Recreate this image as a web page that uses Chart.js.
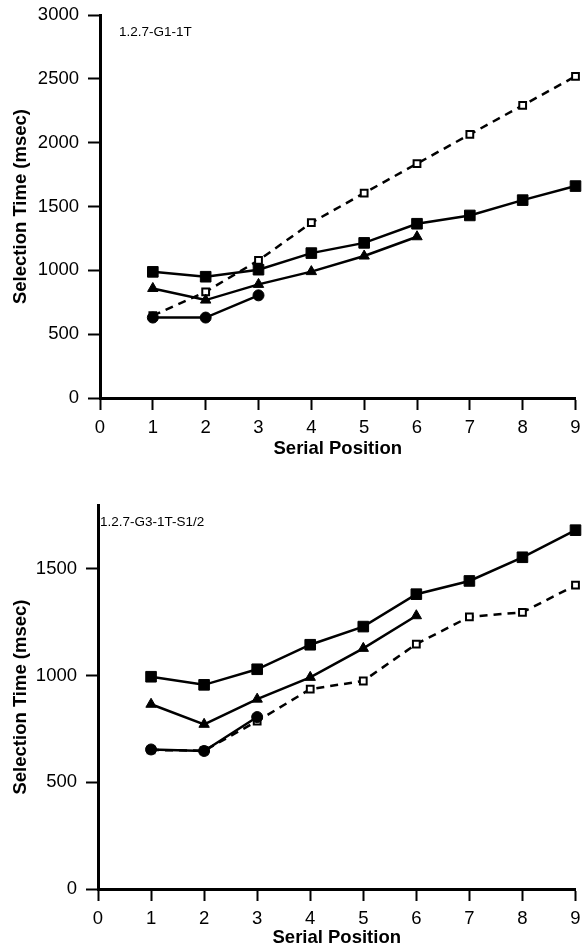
<!DOCTYPE html>
<html>
<head>
<meta charset="utf-8">
<script src="https://cdn.jsdelivr.net/npm/chart.js@4/dist/chart.umd.min.js"></script>
<style>
  html, body { margin: 0; padding: 0; background: #fff; }
  #wrap { position: relative; width: 584px; height: 949px; overflow: hidden; }
  canvas { position: absolute; left: 0; }
  #c1 { top: 0; }
  #c2 { top: 475px; }
</style>
</head>
<body>
<div id="wrap">
  <canvas id="c1" width="584" height="460"></canvas>
  <canvas id="c2" width="584" height="474"></canvas>
</div>
<script>
// ---- data ----
const positions = [1, 2, 3, 4, 5, 6, 7, 8, 9];
const xTicks = [0, 1, 2, 3, 4, 5, 6, 7, 8, 9];

const topLabel = '1.2.7-G1-1T';
const topYTicks = [0, 500, 1000, 1500, 2000, 2500, 3000];
const topSquares = [988, 950, 1005, 1135, 1215, 1365, 1430, 1550, 1660];
const topOpen = [645, 832, 1078, 1373, 1605, 1836, 2065, 2292, 2520];
const topTriangles = [858, 767, 890, 990, 1112, 1263];
const topCircles = [630, 630, 804];

const botLabel = '1.2.7-G3-1T-S1/2';
const botYTicks = [0, 500, 1000, 1500];
const botSquares = [995, 957, 1030, 1145, 1230, 1382, 1444, 1555, 1682];
const botOpen = [652, 648, 787, 937, 975, 1148, 1276, 1297, 1424];
const botTriangles = [866, 772, 890, 992, 1128, 1281];
const botCircles = [654, 647, 806];

const xTitle = 'Serial Position';
const yTitle = 'Selection Time (msec)';

// ---- helpers ----
function pts(vals) { return vals.map((v, i) => ({ x: positions[i], y: v })); }

function datasets(sq, open, tri, circ) {
  const base = { borderColor: '#000', borderWidth: 2.5, clip: false, tension: 0, fill: false };
  return [
    Object.assign({}, base, { data: pts(sq), pointStyle: 'rect', pointRadius: 7.5, backgroundColor: '#000', pointBackgroundColor: '#000', pointBorderWidth: 1 }),
    Object.assign({}, base, { data: pts(tri), pointStyle: 'triangle', pointRadius: 6, backgroundColor: '#000', pointBackgroundColor: '#000', pointBorderWidth: 1 }),
    Object.assign({}, base, { data: pts(circ), pointStyle: 'circle', pointRadius: 5.5, backgroundColor: '#000', pointBackgroundColor: '#000', pointBorderWidth: 1 }),
    Object.assign({}, base, { data: pts(open), borderDash: [8, 6], pointStyle: 'rect', pointRadius: 4.8, backgroundColor: '#fff', pointBackgroundColor: '#fff', pointBorderWidth: 2 })
  ];
}

const labelPlugin = {
  id: 'cornerLabel',
  afterDraw(chart, args, opts) {
    const ctx = chart.ctx;
    const a = chart.chartArea;
    ctx.save();
    ctx.font = '13.5px "Liberation Sans", Arial, sans-serif';
    ctx.fillStyle = '#000';
    ctx.textBaseline = 'alphabetic';
    ctx.textAlign = 'left';
    ctx.fillText(opts.text, a.left + opts.dx, a.top + opts.dy);
    ctx.restore();
  }
};

function makeChart(id, sq, open, tri, circ, yTicks, yMax, yWidth, xHeight, pad, label, ldx) {
  const fontTick = { family: '"Liberation Sans", Arial, sans-serif', size: 18.5 };
  const fontTitle = { family: '"Liberation Sans", Arial, sans-serif', size: 18.5, weight: 'bold' };
  return new Chart(document.getElementById(id), {
    type: 'line',
    data: { datasets: datasets(sq, open, tri, circ) },
    plugins: [labelPlugin],
    options: {
      responsive: false,
      animation: false,
      devicePixelRatio: 1,
      layout: { padding: pad },
      plugins: {
        legend: { display: false },
        tooltip: { enabled: false },
        cornerLabel: { text: label, dx: ldx, dy: 21 }
      },
      scales: {
        x: {
          type: 'linear',
          min: 0, max: 9,
          afterBuildTicks(s) { s.ticks = xTicks.map(v => ({ value: v })); },
          afterFit(s) { s.height = xHeight; s.paddingLeft = 0; s.paddingRight = 0; },
          grid: { drawOnChartArea: false, drawTicks: true, tickLength: 12, tickWidth: 2, tickColor: '#000' },
          border: { display: true, width: 3, color: '#000' },
          ticks: { color: '#000', font: fontTick, padding: 7, maxRotation: 0, autoSkip: false, callback: v => String(v) },
          title: { display: true, text: xTitle, color: '#000', font: fontTitle, padding: { top: 0, bottom: 0 } }
        },
        y: {
          type: 'linear',
          min: 0, max: yMax,
          afterBuildTicks(s) { s.ticks = yTicks.map(v => ({ value: v })); },
          afterFit(s) { s.width = yWidth; s.paddingTop = 0; s.paddingBottom = 0; },
          grid: { drawOnChartArea: false, drawTicks: true, tickLength: 12, tickWidth: 2, tickColor: '#000' },
          border: { display: true, width: 3, color: '#000' },
          ticks: { color: '#000', font: fontTick, padding: 9, autoSkip: false, callback: v => String(v) },
          title: { display: true, text: yTitle, color: '#000', font: fontTitle, padding: { top: 10, bottom: 0 } }
        }
      }
    }
  });
}

makeChart('c1', topSquares, topOpen, topTriangles, topCircles, topYTicks, 3000, 100, 62,
  { top: 15, right: 4, left: 0, bottom: 0 }, topLabel, 19);
makeChart('c2', botSquares, botOpen, botTriangles, botCircles, botYTicks, 1800, 98, 60,
  { top: 30, right: 6, left: 0, bottom: 0 }, botLabel, 2);
</script>
</body>
</html>
